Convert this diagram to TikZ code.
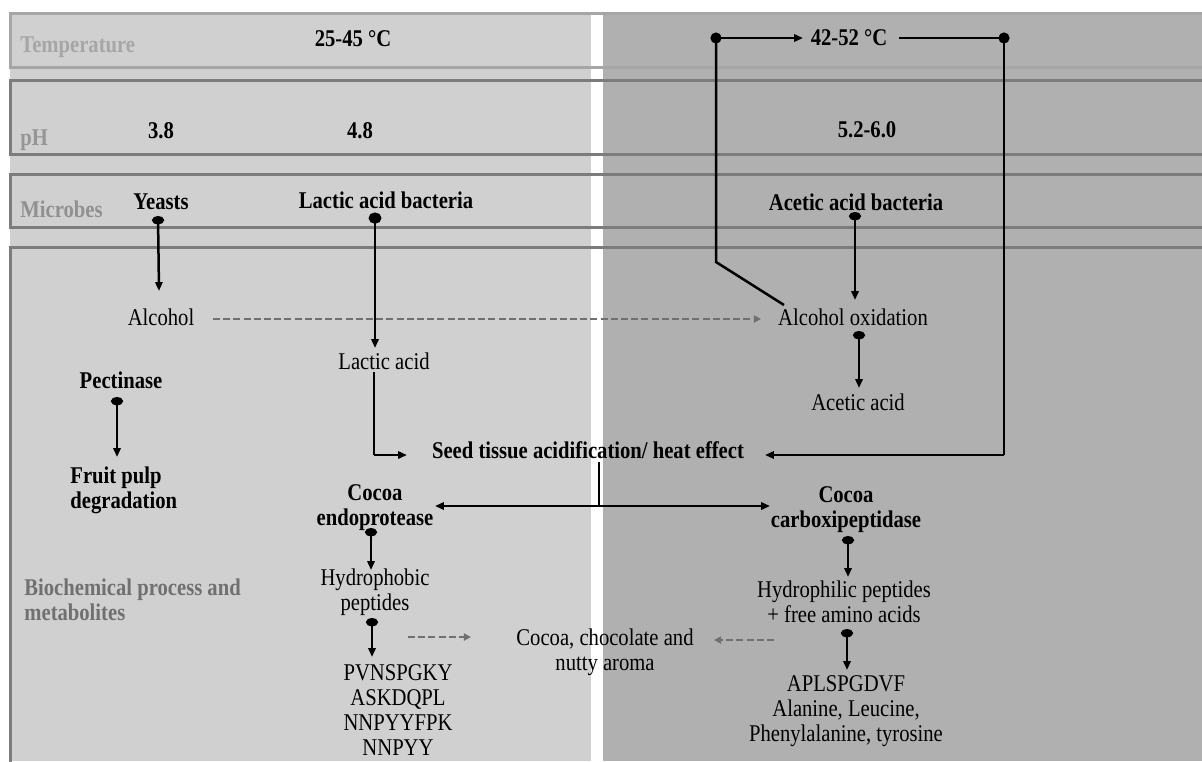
\documentclass[tikz,border=0pt]{standalone}
\usepackage{fontspec}
\setmainfont{Liberation Serif}[FakeStretch=0.86]
\usetikzlibrary{arrows.meta}
\definecolor{lightpanel}{HTML}{D0D0D0}
\definecolor{darkpanel}{HTML}{B0B0B0}
\definecolor{bandlight}{HTML}{A6A6A6}
\definecolor{banddark}{HTML}{7C7C7C}
\definecolor{dashgray}{HTML}{707070}
\begin{document}
\begin{tikzpicture}[x=0.5pt,y=-0.5pt,
  lbl/.style={font=\fontsize{12}{12.5}\selectfont, inner sep=0pt, align=center},
  blbl/.style={font=\fontsize{12}{12.5}\selectfont\bfseries, inner sep=0pt, align=center},
  sidelbl/.style={font=\fontsize{12}{12.5}\selectfont\bfseries, inner sep=0pt, align=left, anchor=west},
  conn/.style={line width=1.25pt, -{Triangle[length=4.4pt,width=3.6pt]}},
  dotconn/.style={line width=1.25pt, {Circle[length=4.2pt,width=6pt]}-{Triangle[length=4.4pt,width=3.6pt]}},
  plainline/.style={line width=1.25pt},
  dashconn/.style={line width=1.3pt, dashgray, dash pattern=on 3.5pt off 1.6pt, -{Triangle[length=3.6pt,width=3.6pt]}},
  bandA/.style={line width=1.5pt, bandlight},
  bandB/.style={line width=1.5pt, banddark},
  bigdot/.style={fill=black, draw=none}
]
\useasboundingbox (0,0) rectangle (1202,761);
% panels
\fill[white] (0,0) rectangle (1202,761);
\fill[lightpanel] (10,13) rectangle (591,761);
\fill[darkpanel] (603,13) rectangle (1202,761);
% bands
\draw[bandA] (1202,13) -- (10,13) -- (10,67) -- (1202,67);
\draw[bandB] (1202,80) -- (10,80) -- (10,154) -- (1202,154);
\draw[bandB] (1202,174) -- (10,174) -- (10,227) -- (1202,227);
\draw[bandB] (1202,247) -- (10,247) -- (10,765);

% band labels
\node[sidelbl, text=bandlight] (ltemp) at (20,47) {Temperature};
\node[sidelbl, text=bandlight!90!black] (lph) at (20,140) {pH};
\node[sidelbl, text=banddark!85!white] (lmic) at (20,209) {Microbes};
\node[sidelbl, text=dashgray] (lbio) at (24,600) {Biochemical process and\\metabolites};

% band values
\node[blbl] (t1) at (353,39) {25-45 °C};
\node[blbl] (t2) at (849,38) {42-52 °C};
\node[blbl] (ph1) at (161,131) {3.8};
\node[blbl] (ph2) at (360,131) {4.8};
\node[blbl] (ph3) at (867,130) {5.2-6.0};
\node[blbl] (yeast) at (161,202) {Yeasts};
\node[blbl] (lab) at (386,200) {Lactic acid bacteria};
\node[blbl] (aab) at (856,202) {Acetic acid bacteria};

% body nodes
\node[lbl] (alc) at (161,317) {Alcohol};
\node[lbl] (lact) at (384,361) {Lactic acid};
\node[lbl] (alcox) at (853,317) {Alcohol oxidation};
\node[lbl] (acet) at (858,402) {Acetic acid};
\node[blbl] (pect) at (121,380) {Pectinase};
\node[blbl, align=left, anchor=west] (fruit) at (70,490) {Fruit pulp\\degradation};
\node[blbl] (seed) at (588,450) {Seed tissue acidification/ heat effect};
\node[blbl] (endo) at (375,508) {Cocoa\\endoprotease};
\node[blbl] (carb) at (846,510) {Cocoa\\carboxipeptidase};
\node[lbl] (hphob) at (375,592) {Hydrophobic\\peptides};
\node[lbl] (pep1) at (398,710) {PVNSPGKY\\ASKDQPL\\NNPYYFPK\\NNPYY};
\node[lbl] (aroma) at (605,652) {Cocoa, chocolate and\\nutty aroma};
\node[lbl] (hphil) at (844,602) {Hydrophilic peptides\\+ free amino acids};
\node[lbl] (pep2) at (846,711) {APLSPGDVF\\Alanine, Leucine,\\Phenylalanine, tyrosine};

% coordinates
\coordinate (tl) at (716,38);
\coordinate (tr) at (1004,38);
\coordinate (tarr) at (803,38);
\coordinate (tline) at (899,38);
\coordinate (bend) at (716,262);
\coordinate (oxcorner) at (784,305);
\coordinate (heatR) at (1004,455);
\coordinate (heatTip) at (765,455);
\coordinate (lactBend) at (374,455);
\coordinate (lactTip) at (407,455);
\coordinate (splitTop) at (599,462);
\coordinate (splitMid) at (599,506);
\coordinate (endoTip) at (435,506);
\coordinate (carbTip) at (770,506);

% top temperature connectors
\fill[bigdot] (tl) ellipse [x radius=5.6, y radius=5.6];
\fill[bigdot] (tr) ellipse [x radius=5.6, y radius=5.6];
\draw[conn] (tl) -- (tarr);
\draw[plainline] (tline) -- (tr);
\draw[plainline] (tl) -- (bend) -- (oxcorner);
\draw[plainline] (tr) -- (heatR);
\draw[conn] (heatR) -- (heatTip);

% microbes to products
\draw[dotconn] (158,216) -- (159,291);
\draw[line width=1.25pt, {Circle[length=5.6pt,width=6.4pt]}-{Triangle[length=4.4pt,width=3.6pt]}] (375,212.5) -- (375,348);
\draw[dotconn] (855,212) -- (855,300);
\draw[dashconn] (213,319) -- (761,319);
\draw[dotconn] (859,331) -- (859,388);
\draw[dotconn] (117,397) -- (117,457);

% lactic acid to seed
\draw[plainline] (374,372) -- (lactBend);
\draw[conn] (lactBend) -- (lactTip);

% split
\draw[plainline] (splitTop) -- (splitMid);
\draw[line width=1.25pt, {Triangle[length=4.4pt,width=3.6pt]}-{Triangle[length=4.4pt,width=3.6pt]}] (endoTip) -- (carbTip);

% proteases
\draw[dotconn] (371,528) -- (371,570);
\draw[dotconn] (372,618) -- (372,657);
\draw[dashconn] (408,637) -- (471,637);
\draw[dotconn] (848,536) -- (848,577);
\draw[dotconn] (847,629) -- (847,670);
\draw[dashconn] (774,640) -- (714,640);
\end{tikzpicture}
\end{document}
